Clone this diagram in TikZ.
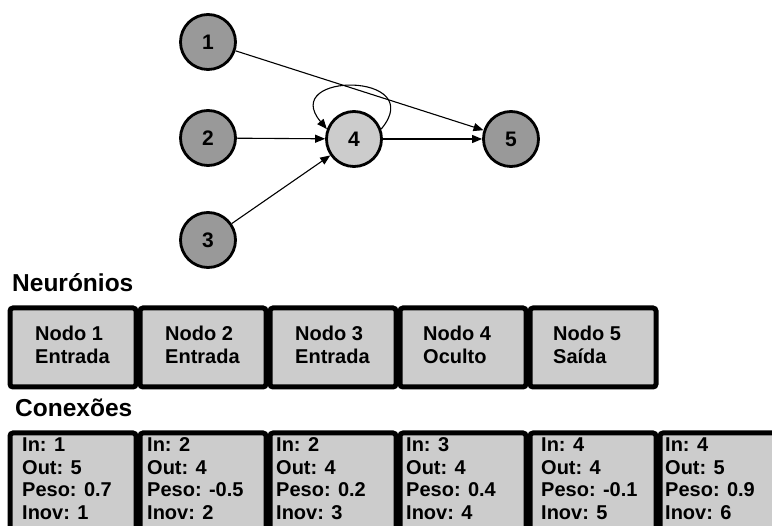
\documentclass[tikz,border=0pt]{standalone}
\usepackage{fontspec}
\setmainfont{Liberation Sans}
\usetikzlibrary{arrows.meta}
\definecolor{darknode}{HTML}{999999}
\definecolor{lightfill}{HTML}{CCCCCC}
\begin{document}
\begin{tikzpicture}[x=1pt,y=1pt,
  neuron/.style={circle,draw=black,line width=2.8pt,fill=darknode,minimum size=55pt,inner sep=0pt,font=\fontsize{21}{24}\selectfont\bfseries},
  hidden/.style={neuron,fill=lightfill},
  conn/.style={line width=1.1pt,-{Triangle[length=10pt,width=8pt]}},
  nbox/.style={draw=black,fill=lightfill,line width=5pt,rounded corners=3pt,minimum width=126pt,inner sep=0pt,anchor=north west},
  btext/.style={anchor=base west,inner sep=0pt,font=\fontsize{20}{22}\selectfont\bfseries},
  head/.style={anchor=base west,inner sep=0pt,font=\fontsize{24.5}{28}\selectfont\bfseries}]
\useasboundingbox (0,0) rectangle (772,-526);
\clip (0,0) rectangle (772,-526);
% graph
\node[neuron] (n1) at (208,-42) {1};
\node[neuron] (n2) at (208,-138) {2};
\node[neuron] (n3) at (208,-240) {3};
\node[hidden] (n4) at (354,-139) {4};
\node[neuron] (n5) at (511,-139) {5};
\draw[conn] (n1) -- (n5);
\draw[conn] (n2) -- (n4);
\draw[conn] (n3) -- (n4);
\draw[conn] (n4) -- (n5);
\draw[conn] (n4.20) .. controls +(50:75) and +(130:75) .. (n4.160);
% neurons
\node[head] (hn) at (12,-292) {Neurónios};
\foreach \i/\tx/\la/\lb in {0/35/Nodo 1/Entrada,1/165/Nodo 2/Entrada,2/295/Nodo 3/Entrada,3/423/Nodo 4/Oculto,4/553/Nodo 5/Saída}{
  \node[nbox,minimum height=79pt] (nb\i) at ({7.5+130*\i},-305.5) {};
  \node[btext] (nl\i a) at (\tx,-341) {\la};
  \node[btext] (nl\i b) at (\tx,-363.5) {\lb};
}
% connections
\node[head] (hc) at (15,-417) {Conexões};
\foreach \i/\tx/\a/\b/\p/\n in {0/22/1/5/0.7/1,1/147/2/4/-0.5/2,2/276/2/4/0.2/3,3/406/3/4/0.4/4,4/541/4/4/-0.1/5,5/665/4/5/0.9/6}{
  \node[nbox,minimum height=130pt] (cb\i) at ({7.5+130*\i},-430.5) {};
  \node[btext] (cl\i a) at (\tx,-452) {In: \a};
  \node[btext] (cl\i b) at (\tx,-474.5) {Out: \b};
  \node[btext] (cl\i c) at (\tx,-497) {Peso: \p};
  \node[btext] (cl\i d) at (\tx,-519.5) {Inov: \n};
}
\end{tikzpicture}
\end{document}
